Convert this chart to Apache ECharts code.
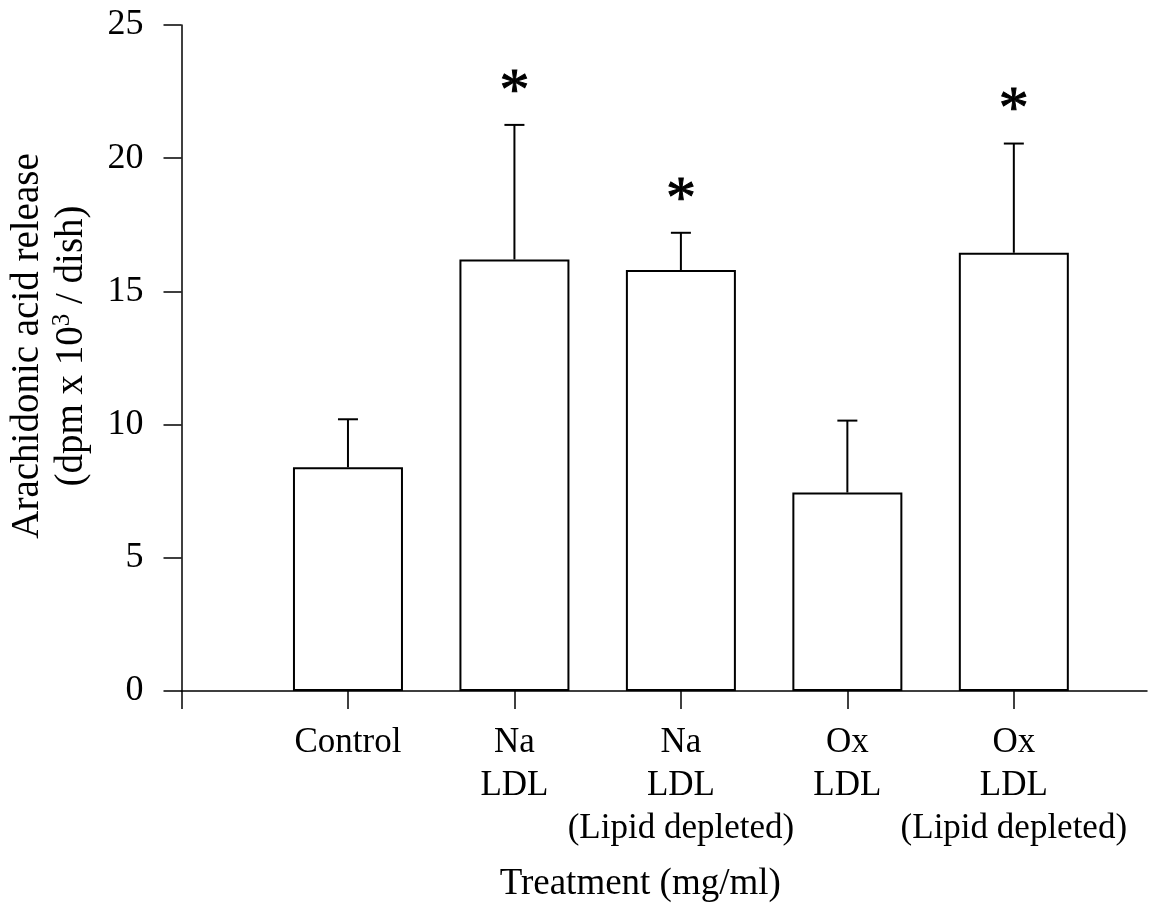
<!DOCTYPE html>
<html>
<head>
<meta charset="utf-8">
<script src="https://cdn.jsdelivr.net/npm/echarts@6/dist/echarts.min.js"></script>
<style>
  html, body { margin: 0; padding: 0; background: #fff; }
  #chart { width: 1162px; height: 909px; }
</style>
</head>
<body>
<div id="chart"></div>
<script>
// Treatment groups, in plotting order along the x axis (positions 1..5)
const categories = ['Control', 'Na\nLDL', 'Na\nLDL\n(Lipid depleted)', 'Ox\nLDL', 'Ox\nLDL\n(Lipid depleted)'];
const positions = [1, 2, 3, 4, 5];
// Mean arachidonic acid release (dpm x 10^3 / dish)
const means = [8.4, 16.2, 15.8, 7.45, 16.45];
// Upper error (SD) for each group
const errors = [1.8, 5.05, 1.4, 2.7, 4.1];
// Significance marks (*) drawn above the error bar
const significant = [false, true, true, false, true];
// Y axis tick values
const yTicks = [0, 5, 10, 15, 20, 25];

const FONT = "'Liberation Serif', 'Times New Roman', serif";

const barData = positions.map((p, i) => [p, means[i]]);
const errData = positions.map((p, i) => [p, means[i], errors[i], significant[i] ? 1 : 0]);

const chart = echarts.init(document.getElementById('chart'), null, { renderer: 'canvas' });

chart.setOption({
  animation: false,
  backgroundColor: '#fff',
  grid: { left: 180, right: 15, top: 25, bottom: 218, containLabel: false },
  xAxis: {
    type: 'value',
    min: 0,
    max: 5.8,
    interval: 1,
    splitLine: { show: false },
    axisLine: { show: true, onZero: false, lineStyle: { color: '#000', width: 1.5 } },
    axisTick: { show: true, inside: false, length: 18, customValues: [0, 1, 2, 3, 4, 5],
                lineStyle: { color: '#000', width: 1.5 } },
    axisLabel: {
      show: true,
      customValues: positions,
      margin: 30,
      color: '#000',
      fontFamily: FONT,
      fontSize: 35,
      lineHeight: 43,
      align: 'center',
      formatter: v => categories[positions.indexOf(v)] || ''
    },
    name: 'Treatment (mg/ml)',
    nameLocation: 'middle',
    nameGap: 175,
    nameTextStyle: { color: '#000', fontFamily: FONT, fontSize: 37, padding: [0, 48, 0, 0] }
  },
  yAxis: {
    type: 'value',
    min: 0,
    max: 25,
    interval: 5,
    splitLine: { show: false },
    axisLine: { show: true, lineStyle: { color: '#000', width: 1.5 } },
    axisTick: { show: true, inside: false, length: 18, lineStyle: { color: '#000', width: 1.5 } },
    axisLabel: {
      margin: 38,
      color: '#000',
      fontFamily: FONT,
      fontSize: 36,
      customValues: yTicks
    },
    name: '{a|Arachidonic acid release}\n{a|(dpm x 10}{s|3}{a| / dish)}',
    nameLocation: 'middle',
    nameGap: 88,
    nameTextStyle: {
      color: '#000',
      fontFamily: FONT,
      padding: [0, 0, 0, 24],
      rich: {
        a: { fontFamily: FONT, fontSize: 39, lineHeight: 44, color: '#000' },
        s: { fontFamily: FONT, fontSize: 25, lineHeight: 34, color: '#000', verticalAlign: 'top' }
      }
    }
  },
  series: [
    {
      type: 'bar',
      data: barData,
      barWidth: 110,
      itemStyle: { color: '#fff', borderColor: '#000', borderWidth: 2 },
      z: 2
    },
    {
      type: 'custom',
      data: errData,
      z: 3,
      renderItem: function (params, api) {
        const x = api.value(0);
        const m = api.value(1);
        const e = api.value(2);
        const sig = api.value(3);
        const base = api.coord([x, m]);
        const top = api.coord([x, m + e]);
        const cap = 10;
        const children = [
          { type: 'line', shape: { x1: base[0], y1: base[1], x2: top[0], y2: top[1] },
            style: { stroke: '#000', lineWidth: 2 } },
          { type: 'line', shape: { x1: top[0] - cap, y1: top[1], x2: top[0] + cap, y2: top[1] },
            style: { stroke: '#000', lineWidth: 2 } }
        ];
        if (sig) {
          children.push({
            type: 'text',
            x: top[0],
            y: top[1] - 62,
            style: { text: '*', fontFamily: FONT, fontSize: 60, fill: '#000',
                     align: 'center', verticalAlign: 'top', stroke: '#000', lineWidth: 1 }
          });
        }
        return { type: 'group', children: children };
      }
    }
  ]
});
</script>
</body>
</html>
